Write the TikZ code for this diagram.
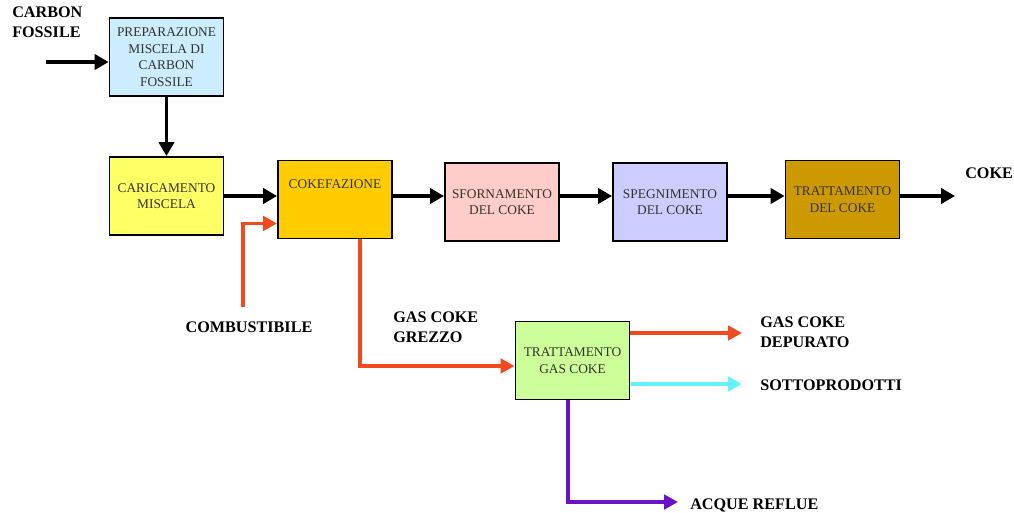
\documentclass[tikz,border=0pt]{standalone}
\usepackage{fontspec}
\setmainfont{Liberation Serif}
\usetikzlibrary{positioning, arrows.meta}

\definecolor{prepblue}{HTML}{CCECFF}
\definecolor{caricyellow}{HTML}{FFFF66}
\definecolor{cokeorange}{HTML}{FFCC00}
\definecolor{sfornpink}{HTML}{FFCCCC}
\definecolor{speglilac}{HTML}{CCCCFF}
\definecolor{trattbrown}{HTML}{CC9900}
\definecolor{gasgreen}{HTML}{CCFF99}
\definecolor{fuelred}{HTML}{F04A1E}
\definecolor{subcyan}{HTML}{66F2FF}
\definecolor{wastepurple}{HTML}{6A12C8}
\definecolor{boxtext}{HTML}{33332A}

\tikzset{
  box/.style={draw, line width=1.3pt, minimum width=2.85cm, minimum height=1.95cm,
    align=center, inner sep=1pt, text=boxtext, font=\fontsize{9.5}{11.8}\selectfont},
  flow/.style={-{Triangle[length=0.35cm,width=0.38cm]}, line width=2.6pt},
  cflow/.style={-{Triangle[length=0.35cm,width=0.36cm]}, line width=2.7pt},
  tag/.style={font=\bfseries\fontsize{11.5}{14.2}\selectfont, align=left, inner sep=0pt},
}

\begin{document}
\begin{tikzpicture}[x=0.025cm, y=-0.025cm]
        \useasboundingbox (0,0) rectangle (1014,513);

        % boxes
        \node[box, fill=prepblue] (prep) at (166.5,57) {PREPARAZIONE\\MISCELA DI\\CARBON\\FOSSILE};
        \node[box, fill=caricyellow] (caric) at (166.5,196) {CARICAMENTO\\MISCELA};
        \node[box, fill=cokeorange, text depth=0.75cm] (cokef) at (335,199.5) {COKEFAZIONE};
        \node[box, fill=sfornpink] (sforn) at (502,202) {SFORNAMENTO\\DEL COKE};
        \node[box, fill=speglilac] (speg) at (670,202) {SPEGNIMENTO\\DEL COKE};
        \node[box, fill=trattbrown] (trattc) at (842.5,199.5) {TRATTAMENTO\\DEL COKE};
        \node[box, fill=gasgreen] (gas) at (572.5,360.5) {TRATTAMENTO\\GAS COKE};

        % labels
        \node[tag, anchor=north west] (carbon) at (12,7) {CARBON\\FOSSILE};
        \node[tag, anchor=west] (coke) at (965,173) {COKE};
        \node[tag] (comb) at (249,327) {COMBUSTIBILE};
        \node[tag, anchor=west] (grezzo) at (393,327) {GAS COKE\\GREZZO};
        \node[tag, anchor=west] (depur) at (760,332) {GAS COKE\\DEPURATO};
        \node[tag, anchor=west] (sotto) at (760,385) {SOTTOPRODOTTI};
        \node[tag, anchor=west] (acque) at (690,505) {ACQUE REFLUE};

        % free ends
        \coordinate (mainy) at (0,196);
        \coordinate (carbonIn) at (46,62);
        \coordinate (cokeOut) at (955,196);
        \coordinate (combIn) at (243,307);
        \coordinate (depurOut) at (742,333);
        \coordinate (sottoOut) at (742,384);
        \coordinate (acqueOut) at (678,502);

        % main line
        \draw[flow] (carbonIn) -- (carbonIn -| prep.west);
        \draw[flow] (prep.south) -- (caric.north);
        \draw[flow] (caric.east |- mainy) -- (cokef.west |- mainy);
        \draw[flow] (cokef.east |- mainy) -- (sforn.west |- mainy);
        \draw[flow] (sforn.east |- mainy) -- (speg.west |- mainy);
        \draw[flow] (speg.east |- mainy) -- (trattc.west |- mainy);
        \draw[flow] (trattc.east |- mainy) -- (cokeOut);

        % gas and side streams
        \draw[cflow, fuelred] (combIn) |- ([shift={(0,-16)}]cokef.south west);
        \draw[cflow, fuelred] ([shift={(25,0)}]cokef.south) |- ([shift={(0,5.5)}]gas.west);
        \draw[cflow, fuelred] ([shift={(0,-27.5)}]gas.east) -- (depurOut);
        \draw[cflow, subcyan] ([shift={(0,23.5)}]gas.east) -- (sottoOut);
        \draw[cflow, wastepurple] ([shift={(-4.5,0)}]gas.south) |- (acqueOut);
    \end{tikzpicture}
\end{document}
